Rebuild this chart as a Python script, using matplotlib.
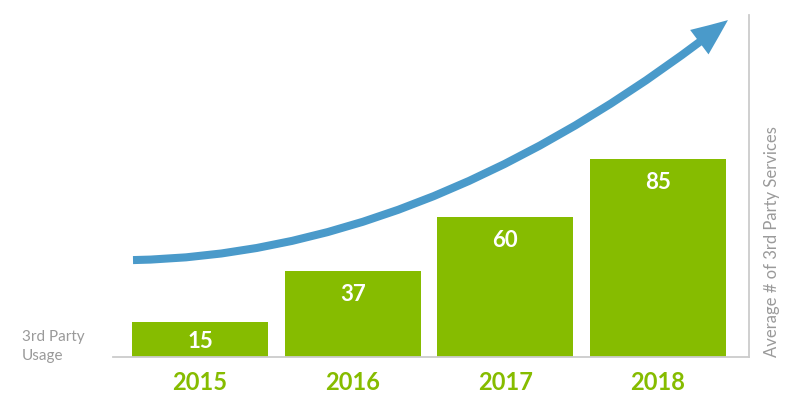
import matplotlib
matplotlib.use("Agg")
import matplotlib.pyplot as plt
from matplotlib.patches import FancyArrowPatch
from matplotlib.path import Path

years = ["2015", "2016", "2017", "2018"]
usage = [15, 37, 60, 85]

green = "#86bc00"
blue = "#4a9aca"
grey_line = "#cccccc"
grey_text = "#9a9a9a"

plt.rcParams['font.family'] = ['Lato', 'DejaVu Sans']

fig = plt.figure(figsize=(8, 4.13), dpi=100, facecolor='white')
ax = fig.add_axes([113 / 800, 56 / 413, 636 / 800, 342 / 413])

pos = list(range(len(years)))
ax.bar(pos, usage, width=0.89, color=green, zorder=2)

for x, v in zip(pos, usage):
    ax.text(x, max(v - 10, v / 2 - 1), str(v), ha='center', va='center',
            color='white', fontsize=16, fontweight='bold', zorder=3)

ax.set_xlim(-0.57, 3.596)
ax.set_ylim(0, 146.8)

ax.set_xticks(pos)
ax.set_xticklabels(years, color=green, fontsize=17, fontweight='bold')
ax.tick_params(axis='x', length=0, pad=10)
ax.set_yticks([])

for s in ['top', 'left']:
    ax.spines[s].set_visible(False)
for s in ['bottom', 'right']:
    ax.spines[s].set_color(grey_line)
    ax.spines[s].set_linewidth(1.3)

ax.yaxis.set_label_position('right')
ax.set_ylabel("Average # of 3rd Party Services", loc='bottom', color=grey_text,
              fontsize=12, labelpad=11)

ax.text(-0.143, 0.03, "3rd Party\nUsage", transform=ax.transAxes, ha='left',
        va='center', color=grey_text, fontsize=11, linespacing=1.45)

# growth arrow (quadratic curve)
arrow_path = Path([(-0.439, 41.6), (1.507, 43.8), (3.458, 144.6)],
                  [Path.MOVETO, Path.CURVE3, Path.CURVE3])
arrow = FancyArrowPatch(path=arrow_path,
                        arrowstyle='simple,head_length=2.6,head_width=2.2,tail_width=0.58',
                        mutation_scale=10, color=blue, lw=0, zorder=4)
ax.add_patch(arrow)

fig.savefig("out.png", dpi=100, facecolor='white')
